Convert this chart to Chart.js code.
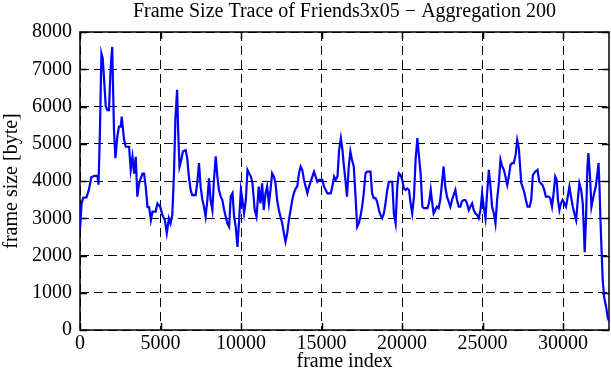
<!DOCTYPE html>
<html>
<head>
<meta charset="utf-8">
<script src="https://cdn.jsdelivr.net/npm/chart.js@4/dist/chart.umd.min.js"></script>
<style>
  html, body { margin: 0; padding: 0; background: #fff; }
  #wrap { width: 611px; height: 380px; }
</style>
</head>
<body>
<div id="wrap"><canvas id="chart" width="611" height="380"></canvas></div>
<script>
// frame index (x) and aggregated frame size in bytes (y)
const frameIdx = [
  0, 100, 200, 400, 550, 700, 900, 1080, 1150, 1240, 1330, 1410, 1500, 1600, 1700, 1800,
  1900, 2000, 2110, 2200, 2320, 2420, 2530, 2590, 2740, 2840, 3050, 3150, 3260, 3360, 3460,
  3560, 3670, 3880, 3980, 4080, 4190, 4290, 4400, 4500, 4700, 4810, 4980, 5120, 5270, 5390,
  5520, 5620, 5730, 5830, 5930, 6030, 6100, 6180, 6290, 6390, 6560, 6660, 6760, 6870, 6970,
  7180, 7280, 7390, 7490, 7600, 7700, 7800, 7910, 8010, 8110, 8220, 8320, 8430, 8530, 8630,
  8740, 8840, 8950, 9050, 9150, 9260, 9360, 9470, 9570, 9670, 9780, 9880, 9990, 10090, 10190,
  10300, 10400, 10500, 10610, 10710, 10850, 10960, 11040, 11100, 11210, 11310, 11410, 11520,
  11620, 11730, 11830, 11930, 12040, 12140, 12240, 12350, 12450, 12560, 12660, 12760, 12870,
  12970, 13080, 13180, 13280, 13390, 13490, 13600, 13700, 13800, 13910, 14010, 14120, 14220,
  14320, 14430, 14530, 14630, 14740, 14840, 15050, 15150, 15260, 15360, 15570, 15670, 15780,
  15880, 15990, 16090, 16200, 16300, 16370, 16480, 16580, 16690, 16790, 16890, 17000, 17100,
  17210, 17310, 17410, 17520, 17620, 17730, 17830, 18040, 18140, 18240, 18350, 18450, 18560,
  18660, 18760, 18870, 18970, 19080, 19180, 19390, 19490, 19600, 19700, 19800, 19910, 20010,
  20110, 20220, 20320, 20430, 20530, 20630, 20740, 20840, 20950, 21050, 21150, 21260, 21360,
  21570, 21670, 21780, 21850, 21960, 22060, 22160, 22270, 22370, 22480, 22580, 22680, 22790,
  22890, 23000, 23100, 23200, 23310, 23410, 23520, 23620, 23720, 23830, 23930, 24030, 24140,
  24240, 24350, 24450, 24550, 24660, 24760, 24870, 24970, 25070, 25180, 25280, 25390, 25490,
  25590, 25700, 25800, 25900, 26010, 26110, 26220, 26320, 26420, 26530, 26630, 26730, 26840,
  26940, 27050, 27150, 27250, 27330, 27400, 27480, 27600, 27690, 27790, 27920, 28020, 28120,
  28270, 28410, 28520, 28620, 28720, 28830, 28930, 29100, 29200, 29310, 29410, 29510, 29600,
  29680, 29770, 29870, 29970, 30080, 30180, 30290, 30390, 30490, 30600, 30700, 30810, 30910,
  31010, 31120, 31220, 31280, 31340, 31420, 31510, 31570, 31660, 31760, 31840, 31930, 32030,
  32130, 32200, 32260, 32320, 32380, 32460, 32550, 32680, 32770, 32850
];
const frameSize = [
  2700, 3400, 3550, 3560, 3760, 4100, 4140, 4140, 3900, 5370, 7430, 7300, 6700, 6000, 5900, 5900,
  7000, 7600, 5370, 4610, 5200, 5460, 5460, 5730, 5100, 4920, 4920, 4300, 4650, 4200, 4650,
  3580, 3940, 4200, 4200, 3850, 3300, 3300, 2950, 3180, 3180, 3400, 3310, 3080, 2950, 2600,
  3000, 2860, 3080, 4120, 5730, 6450, 5280, 4380, 4570, 4790, 4830, 4610, 4120, 3760, 3620,
  3620, 3940, 4480, 3850, 3490, 3310, 3040, 3490, 4070, 3490, 3220, 4030, 4660, 4120, 3760,
  3580, 3490, 3220, 3040, 2860, 2770, 3580, 3670, 3040, 2770, 2230, 2950, 3760, 3490, 3130,
  3490, 4300, 4210, 4120, 3940, 3220, 3040, 3490, 3850, 3400, 3940, 3220, 3670,
  3850, 3400, 3760, 4210, 4120, 3940, 3490, 3220, 3040, 2860, 2600, 2370, 2600,
  2950, 3220, 3490, 3670, 3800, 3850, 4210, 4390, 4300, 4030, 3850, 3670, 3850,
  3980, 4120, 4250, 4120, 3980, 4030, 4030, 3850, 3760, 3670, 3670, 3850, 4120,
  4030, 4120, 4830, 5150, 4830, 4480, 4030, 3580, 4390, 4790, 4570, 4390, 3670,
  2770, 2860, 3040, 3310, 3670, 4210, 4250, 4250, 3670, 3540, 3540, 3450, 3220,
  3090, 3000, 3130, 3400, 3760, 3980, 3980, 3130, 2860, 3850, 4210, 4160, 4030,
  3800, 3760, 3800, 3760, 3400, 3130, 3580, 4570, 5150, 4660, 4210, 3310, 3270,
  3270, 3400, 3760, 3490, 3130, 3220, 3310, 3270, 3490, 3940, 4390, 3850, 3580,
  3450, 3310, 3490, 3620, 3760, 3490, 3310, 3310, 3450, 3490, 3490, 3400, 3220,
  3310, 3400, 3220, 3130, 3090, 3000, 3220, 3670, 3310, 3000, 3670, 4300, 3850,
  3310, 3130, 2860, 3490, 3940, 4570, 4390, 4300, 4120, 3890, 4120, 4430, 4480,
  4480, 4700, 5100, 4880, 4390, 3940, 3850, 3670, 3490, 3310, 3310, 3490, 4160,
  4250, 4300, 3980, 3940, 3890, 3760, 3580, 3580, 3540, 3310, 3670, 4120, 4030,
  3490, 3220, 3400, 3490, 3400, 3310, 3580, 3850, 3580, 3310, 3130, 2950, 3490,
  3940, 3760, 3400, 2770, 2090, 2950, 4390, 4750, 4210, 3310, 3490, 3670, 3850,
  4210, 4480, 3850, 2950, 2230, 1330, 880, 600, 330, 240
];
const xTickValues = [0, 5000, 10000, 15000, 20000, 25000, 30000];
const yTickValues = [0, 1000, 2000, 3000, 4000, 5000, 6000, 7000, 8000];

const titleText = 'Frame Size Trace of Friends3x05 \u2212 Aggregation 200';

Chart.defaults.font.family = '"Liberation Serif", "Times New Roman", serif';
Chart.defaults.font.size = 20;
Chart.defaults.color = '#000';

// gnuplot style box with inward ticks on all four sides
const frameBox = {
  id: 'frameBox',
  beforeDatasetsDraw(chart) {
    const { ctx, chartArea: a, scales: { x, y } } = chart;
    const len = 7;
    ctx.save();
    ctx.strokeStyle = '#000';
    ctx.lineWidth = 1.5;
    ctx.setLineDash([]);
    ctx.beginPath();
    xTickValues.forEach(v => {
      const px = Math.round(x.getPixelForValue(v)) + 0.5;
      ctx.moveTo(px, a.bottom); ctx.lineTo(px, a.bottom - len);
      ctx.moveTo(px, a.top); ctx.lineTo(px, a.top + len);
    });
    yTickValues.forEach(v => {
      const py = Math.round(y.getPixelForValue(v)) + 0.5;
      ctx.moveTo(a.left, py); ctx.lineTo(a.left + len, py);
      ctx.moveTo(a.right, py); ctx.lineTo(a.right - len, py);
    });
    ctx.stroke();
    ctx.strokeRect(a.left, a.top, a.right - a.left, a.bottom - a.top);
    ctx.restore();
  }
};

const points = frameIdx.map((f, i) => ({ x: f, y: frameSize[i] }));

new Chart(document.getElementById('chart'), {
  type: 'line',
  data: {
    datasets: [{
      data: points,
      borderColor: '#0000ff',
      borderWidth: 2.2,
      pointRadius: 0,
      tension: 0,
      fill: false
    }]
  },
  options: {
    responsive: false,
    animation: false,
    devicePixelRatio: 1,
    layout: { padding: { left: 0, right: 2, top: 0, bottom: 0 } },
    plugins: {
      legend: { display: false },
      tooltip: { enabled: false },
      title: {
        display: true,
        fullSize: false,
        text: titleText,
        color: '#000',
        font: { size: 20, weight: 'normal' },
        padding: { top: 0, bottom: 8 }
      }
    },
    scales: {
      x: {
        type: 'linear',
        min: 0,
        max: 32850,
        afterFit: s => { s.height = 50; },
        afterBuildTicks: s => { s.ticks = xTickValues.map(v => ({ value: v })); },
        ticks: {
          callback: v => String(v),
          padding: 2,
          maxRotation: 0,
          autoSkip: false,
          includeBounds: false
        },
        grid: { color: '#000', lineWidth: 1, drawTicks: false },
        border: { display: false, dash: [9, 5] },
        title: {
          display: true,
          text: 'frame index',
          padding: { top: 0, bottom: 6 }
        }
      },
      y: {
        min: 0,
        max: 8000,
        afterFit: s => { s.width = 80; },
        afterBuildTicks: s => { s.ticks = yTickValues.map(v => ({ value: v })); },
        ticks: {
          callback: v => String(v),
          padding: 8,
          autoSkip: false
        },
        grid: { color: '#000', lineWidth: 1, drawTicks: false },
        border: { display: false, dash: [9, 5] },
        title: {
          display: true,
          text: 'frame size [byte]',
          padding: { top: 0, bottom: 0 }
        }
      }
    }
  },
  plugins: [frameBox]
});
</script>
</body>
</html>
